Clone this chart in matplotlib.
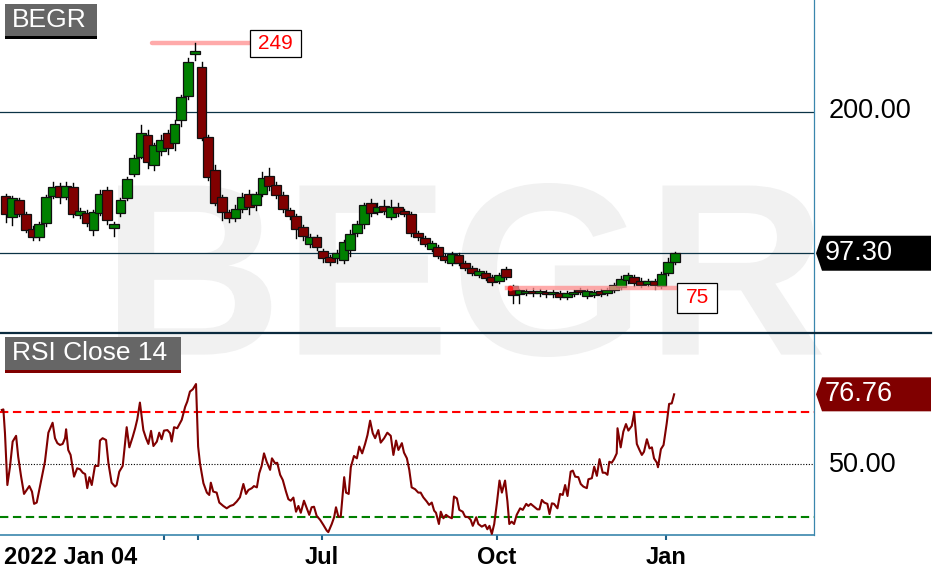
import numpy as np
import matplotlib
matplotlib.use("Agg")
import matplotlib.pyplot as plt
from matplotlib.patches import Rectangle, Polygon, PathPatch
from matplotlib.lines import Line2D
from matplotlib.textpath import TextPath
from matplotlib.font_manager import FontProperties
from matplotlib.transforms import Affine2D

plt.rcParams['font.family'] = ['Liberation Sans', 'DejaVu Sans']

ticker = "BEGR"
# candles, 2022-01-04 .. 2023-01-06 (one candle ~ every 2.5 trading days)
opens = [
    138.8, 123.6, 135.9, 125.7, 114.9, 109.1, 119.2, 138.8, 146.0, 138.1,
    145.3, 125.0, 126.5, 114.1, 126.5, 143.1, 115.6, 126.5, 137.3, 154.7,
    167.1, 183.0, 161.4, 171.4, 184.4, 177.2, 193.8, 211.2, 241.7, 232.2,
    181.5, 157.6, 138.1, 127.2, 122.8, 129.4, 140.2, 132.3, 140.2, 153.3,
    146.7, 139.5, 128.6, 124.3, 116.3, 104.0, 109.1, 98.9, 94.6, 93.9,
    92.4, 99.6, 112.0, 118.5, 133.7, 127.2, 131.5, 123.6, 130.8, 127.9,
    125.7, 112.0, 108.3, 100.4, 101.8, 95.3, 90.2, 96.0, 90.2, 86.6,
    81.5, 83.0, 80.1, 77.2, 85.9, 73.6, 67.8, 68.5, 69.9, 68.5,
    69.2, 67.8, 68.5, 65.6, 67.8, 70.7, 66.3, 67.0, 69.9, 68.5,
    70.7, 72.8, 77.9, 80.1, 77.2, 75.0, 77.2, 73.6, 83.0, 91.0]
closes = [
    125.7, 137.3, 125.7, 114.1, 109.1, 118.5, 138.1, 145.3, 138.1, 146.0,
    125.7, 127.9, 119.2, 127.2, 140.2, 121.4, 118.5, 135.9, 151.1, 166.3,
    184.4, 163.4, 175.7, 179.4, 173.6, 190.9, 210.5, 235.9, 243.8, 180.8,
    152.5, 133.7, 127.2, 122.8, 129.4, 138.1, 130.8, 140.2, 151.8, 146.0,
    139.5, 129.4, 124.3, 114.9, 109.8, 109.1, 101.8, 93.9, 91.0, 97.5,
    105.4, 111.2, 118.5, 132.3, 126.5, 130.8, 127.9, 130.8, 126.5, 125.7,
    112.0, 109.1, 104.0, 104.7, 95.3, 92.4, 96.8, 90.2, 86.6, 83.0,
    84.4, 79.4, 76.5, 81.5, 80.1, 67.0, 70.7, 69.9, 68.5, 69.9,
    67.8, 69.2, 65.6, 68.5, 69.2, 69.2, 69.9, 69.2, 67.8, 70.7,
    74.3, 78.6, 81.5, 75.7, 74.3, 77.2, 74.3, 82.3, 91.0, 97.3]
highs = [
    140.2, 138.8, 137.3, 127.2, 117.0, 119.9, 139.5, 148.9, 148.2, 148.9,
    148.2, 130.1, 128.6, 128.6, 143.1, 145.3, 119.9, 137.3, 152.5, 168.5,
    190.2, 186.6, 177.2, 183.0, 186.6, 193.8, 212.0, 238.8, 249.6, 235.9,
    183.0, 161.4, 139.5, 128.6, 132.3, 141.0, 143.1, 141.7, 156.2, 159.1,
    148.9, 141.7, 130.1, 125.7, 117.8, 111.2, 110.5, 100.4, 96.0, 99.6,
    106.9, 114.1, 120.7, 133.7, 136.6, 133.7, 135.9, 135.9, 133.7, 129.4,
    127.2, 113.4, 109.8, 106.2, 103.3, 96.8, 98.2, 97.5, 91.7, 88.1,
    85.9, 84.4, 81.5, 83.0, 87.3, 74.3, 71.4, 71.4, 72.1, 71.4,
    70.7, 70.7, 69.9, 69.9, 70.7, 72.1, 71.4, 70.7, 71.4, 72.1,
    75.7, 80.8, 83.0, 81.5, 79.4, 78.6, 78.6, 83.7, 93.9, 98.2]
lows = [
    119.9, 117.8, 124.3, 112.7, 106.9, 106.9, 117.0, 137.3, 133.7, 136.6,
    123.6, 122.8, 117.0, 110.5, 125.0, 118.5, 109.8, 124.3, 135.9, 153.3,
    166.3, 159.1, 157.6, 168.5, 169.2, 172.1, 189.5, 209.1, 237.3, 179.4,
    150.4, 132.3, 121.4, 119.9, 120.7, 127.2, 125.7, 128.6, 138.8, 143.1,
    137.3, 127.2, 122.1, 108.3, 106.9, 101.8, 99.6, 91.0, 88.8, 90.2,
    90.2, 95.3, 109.8, 115.6, 124.3, 125.7, 125.7, 122.1, 124.3, 124.3,
    109.8, 106.9, 102.5, 98.9, 93.9, 91.0, 88.8, 88.8, 85.2, 81.5,
    80.1, 77.9, 74.3, 75.7, 78.6, 61.2, 61.2, 67.0, 66.3, 66.3,
    65.6, 65.6, 64.1, 64.1, 66.3, 67.8, 64.9, 65.6, 66.3, 67.0,
    69.2, 71.4, 75.7, 73.6, 72.8, 73.6, 71.4, 72.1, 81.5, 89.5]

# RSI(14) of close, x = trading day since 2022-01-04
rsi_day = [
    -1.4, -0.8, -0.2, 0.7, 1.7, 2.7, 4.0, 4.8, 5.9, 7.0, 8.0, 9.0, 10.0, 10.8, 11.8,
    13.0, 14.1, 14.9, 16.2, 17.8, 18.7, 19.6, 20.6, 21.6, 22.5, 22.9, 23.7, 24.6, 25.9,
    27.1, 28.2, 29.2, 30.1, 30.9, 31.7, 32.6, 33.8, 35.1, 35.7, 36.7, 38.0, 38.9, 40.1,
    41.4, 42.0, 43.0, 44.3, 45.8, 46.8, 48.1, 49.0, 49.8, 50.8, 52.1, 53.1, 54.0, 55.0,
    55.9, 57.2, 58.1, 59.0, 59.9, 61.2, 62.2, 62.8, 63.7, 64.9, 66.6, 67.9, 68.7, 69.7,
    70.8, 72.0, 72.8, 73.5, 74.8, 76.1, 77.0, 77.6, 78.5, 79.8, 80.8, 82.3, 83.6, 84.9,
    86.1, 87.4, 88.6,
    89.9, 90.9, 91.8, 93.1, 93.9, 95.0, 95.9, 96.8, 97.7, 98.7, 100.0, 100.7, 101.9,
    102.7, 103.8, 104.8, 106.0, 106.9, 107.8, 108.8, 109.8, 110.7, 111.6, 112.8, 114.1,
    114.8, 115.7, 116.6, 117.6, 118.9, 120.1, 121.4, 122.0, 123.3, 124.2, 124.9, 125.8,
    126.7, 128.0, 128.7, 129.7, 130.5, 131.7, 132.8, 133.7, 134.8, 135.9, 136.8, 137.8,
    138.8, 139.7, 140.9, 141.8, 143.1, 144.3, 145.6, 146.6, 147.6, 148.5, 149.8, 150.6,
    151.7, 152.6, 153.5, 154.8, 156.0, 156.9, 157.9, 159.2, 160.1, 161.1, 162.0, 162.7,
    163.8, 164.5, 165.5, 166.5, 167.4, 168.7, 169.5, 170.6, 171.5,
    172.8, 173.7, 174.9, 175.8, 176.6, 177.9, 178.7, 180.0, 181.3, 182.1, 182.9, 183.8,
    184.7, 185.7, 186.7, 187.6, 188.8, 189.7, 190.4, 191.3, 192.2, 193.2, 194.5, 195.5,
    196.8, 197.6, 198.5, 199.8, 201.0, 201.8, 202.7, 203.6, 204.8, 205.6, 206.5, 207.3,
    208.6, 209.6, 210.6, 211.5, 212.4, 213.6, 214.4, 215.3, 216.5, 217.4, 218.4, 219.7,
    220.3, 221.6, 222.5, 223.5, 224.5, 225.7, 226.6, 227.5, 228.2, 229.1, 230.0, 231.0,
    231.3, 232.5, 233.5, 234.5, 235.4, 236.7, 237.6, 238.6, 239.6, 240.5, 241.3, 242.4,
    243.4, 244.3, 245.1, 246.2, 246.6, 247.7, 248.7, 249.9, 250.8, 251.8, 252.7]
rsi = [
    70.8, 71.0, 61.9, 42.1, 49.1, 58.7, 60.9, 52.9, 45.3, 38.7, 40.2, 41.7, 39.6, 34.9, 35.4,
    41.5, 47.2, 51.0, 62.1, 65.9, 60.0, 58.1, 57.4, 57.8, 60.0, 63.4, 55.5, 53.6, 45.3,
    48.5, 48.1, 46.8, 46.3, 40.9, 45.1, 42.1, 49.4, 49.4, 59.1, 60.0, 59.3, 50.4, 43.0,
    41.5, 42.1, 47.2, 49.4, 64.2, 56.5, 60.6, 63.8, 67.2, 73.6, 63.1, 60.0, 57.8, 62.8,
    57.0, 58.7, 62.1, 59.6, 62.9, 63.1, 61.9, 58.7, 64.2, 63.8, 67.0, 72.0, 74.0, 77.8,
    78.7, 80.7, 56.8, 50.4, 42.8, 39.2, 38.3, 43.0, 39.6, 39.2, 35.4, 34.1, 33.2, 34.1,
    34.5, 35.8, 37.4,
    42.5, 38.7, 40.2, 40.9, 41.7, 41.2, 46.6, 49.4, 54.2, 51.0, 47.9, 52.3, 50.4,
    50.6, 46.0, 44.0, 39.6, 36.7, 36.1, 37.3, 31.9, 34.1, 31.5, 36.1, 32.6,
    30.7, 33.6, 33.8, 30.3, 28.8, 26.9, 24.7, 24.1, 27.2, 29.8, 33.6, 30.0,
    30.0, 45.1, 39.2, 38.7, 48.9, 53.2, 52.3, 56.8, 54.2, 57.8, 61.2, 66.7,
    61.9, 60.0, 63.1, 58.3, 60.0, 62.1, 60.9, 53.6, 59.1, 55.5, 58.1, 54.5,
    52.3, 47.9, 41.2, 40.5, 39.2, 39.2, 37.4, 35.8, 34.5, 35.4, 32.3, 31.5,
    27.2, 31.9, 29.4, 30.7, 30.0, 29.4, 37.7, 37.0, 32.6,
    31.9, 30.0, 29.8, 28.8, 26.5, 29.8, 27.2, 26.2, 26.9, 25.2, 26.5, 23.4,
    27.2, 35.1, 43.8, 39.2, 43.8, 35.8, 27.2, 28.1, 27.2, 30.7, 33.2, 32.6,
    34.9, 34.1, 34.9, 33.8, 32.8, 32.8, 36.4, 35.4, 34.9, 31.0, 35.1, 34.9,
    33.2, 38.7, 38.3, 42.1, 37.9, 47.2, 47.6, 45.3, 45.1, 42.5, 41.5, 40.9,
    44.3, 44.7, 49.1, 45.6, 52.0, 46.8, 46.8, 46.0, 51.0, 50.6, 52.0, 54.2,
    63.8, 56.5, 62.5, 65.4, 62.9, 64.7, 69.7, 57.8, 55.5, 53.6, 54.8, 59.6,
    56.1, 56.5, 52.3, 50.6, 48.9, 55.8, 57.4, 65.7, 73.1, 73.3, 76.76]

last_price = closes[-1]
last_rsi = rsi[-1]
low_line = 72.3          # where the "75" marker line is drawn
hi_label, lo_label = "249", "75"
tick_days = [59.9, 72.8, 119.6, 185.7, 249.6]
tick_labels = ['', '', 'Jul', 'Oct', 'Jan']

W, H = 951, 578
def fx(x):
    return x / W
def fy(y):
    return 1 - y / H

fig = plt.figure(figsize=(W / 100, H / 100), dpi=100)
fig.patch.set_facecolor('white')

# watermark
fp = FontProperties(family='Liberation Sans', weight='bold')
tp = TextPath((0, 0), ticker, size=100, prop=fp)
ext = tp.get_extents()
tr = (Affine2D().translate(-ext.x0, -ext.y0)
      .scale((822 - 118) / ext.width / W, (357 - 183) / ext.height / H)
      .translate(fx(118), fy(357)))
fig.add_artist(PathPatch(tp, transform=tr + fig.transFigure, facecolor='#f1f1f1',
                         edgecolor='none', zorder=-1))

ax1 = fig.add_axes([0, fy(333), fx(814), fy(0) - fy(333)])
ax2 = fig.add_axes([0, fy(535), fx(814), fy(333) - fy(535)])
for ax in (ax1, ax2):
    ax.set_facecolor('none')
    ax.set_xlim(-2.08, 305.56)
    for s in ax.spines.values():
        s.set_visible(False)
    ax.spines['right'].set_visible(True)
    ax.spines['right'].set_color('#3a86ad')
    ax.spines['right'].set_linewidth(0.9)
    ax.set_yticks([])
ax1.set_xticks([])
ax1.set_ylim(39.5, 280.8)
ax2.set_ylim(23.0, 100.2)

# candles
xc = np.linspace(0, 253, len(closes))
w = 3.7
for i, (x, o, c, h, l) in enumerate(zip(xc, opens, closes, highs, lows)):
    z = 3 + i * 0.001
    ax1.plot([x, x], [l, h], color='black', lw=1, zorder=z)
    col = '#008000' if c >= o else '#800000'
    ax1.add_patch(Rectangle((x - w / 2, min(o, c)), w, max(abs(c - o), 0.6),
                            facecolor=col, edgecolor='#101010', lw=0.9, zorder=z))

ax1.axhline(200, color='#0b3346', lw=0.9, zorder=1)
ax1.axhline(last_price, color='#0b3346', lw=0.9, zorder=1)

# high / low markers
i_hi = int(np.argmax(highs))
ax1.plot([xc[i_hi] - 16.3, xc[i_hi] + 20.8], [highs[i_hi]] * 2, color='#ffaaaa', lw=3.2,
         solid_capstyle='round', zorder=2)
ax1.plot([189.6, 253.8], [low_line] * 2, color='#ff8f8f', lw=3.2, alpha=0.75, zorder=4)
ax1.plot([190.6], [low_line], 'o', color='#ff2020', ms=3, zorder=4.1)

def box_label(ax, xd, yv, text, bw, bh, dy=0):
    px, py = ax.transData.transform((xd, yv))
    x0 = px / fig.dpi * 100
    y0 = H - py / fig.dpi * 100 + dy
    fig.add_artist(Rectangle((fx(x0), fy(y0 + bh / 2)), bw / W, bh / H, transform=fig.transFigure,
                             facecolor='white', edgecolor='black', lw=0.9, zorder=5))
    fig.text(fx(x0 + bw / 2), fy(y0), text, color='#ff0000', fontsize=15, ha='center',
             va='center', zorder=6)

box_label(ax1, xc[i_hi] + 20.8, highs[i_hi], hi_label, 51, 27)
box_label(ax1, 253.8, low_line, lo_label, 40, 30, dy=10)

# RSI panel
ax2.axhline(70, color='#ff0000', lw=1.5, ls=(0, (4, 2.2)), zorder=1)
ax2.axhline(30, color='#008000', lw=1.5, ls=(0, (4, 2.2)), zorder=1)
ax2.axhline(50, color='black', lw=0.8, ls=(0, (1, 1.5)), zorder=1)
ax2.plot(rsi_day, rsi, color='#800000', lw=1.5, zorder=3)
ax2.spines['bottom'].set_visible(True)
ax2.spines['bottom'].set_color('#3a86ad')
ax2.spines['bottom'].set_linewidth(1.2)
ax2.set_xticks(tick_days)
ax2.set_xticklabels(tick_labels, fontsize=17, fontweight='bold')
ax2.tick_params(axis='x', direction='out', length=3.6, width=1.5, color='#1f5f87', pad=4)
ax2.xaxis.get_major_ticks()[1].tick1line.set_color('#ff5a5a')
fig.text(fx(4), fy(557), '2022 Jan 04', fontsize=17, fontweight='bold', ha='left', va='center')

# separator between panels
fig.add_artist(Line2D([0, fx(931)], [fy(333), fy(333)], color='#0b2b3f', lw=1.6,
                      transform=fig.transFigure, zorder=5))

# right axis labels
fig.text(fx(829), fy(111), '200.00', fontsize=19.5, ha='left', va='center')
fig.text(fx(829), fy(465), '50.00', fontsize=19.5, ha='left', va='center')

def tag(ax, value, text, color, half):
    _, py = ax.transData.transform((0, value))
    yc = H - py / fig.dpi * 100
    pts = [(fx(816), fy(yc)), (fx(822), fy(yc - half)), (fx(931), fy(yc - half)),
           (fx(931), fy(yc + half)), (fx(822), fy(yc + half))]
    fig.add_artist(Polygon(pts, closed=True, transform=fig.transFigure, facecolor=color,
                           edgecolor='none', zorder=5))
    fig.text(fx(825), fy(yc), text, color='white', fontsize=19.5, ha='left', va='center',
             zorder=6)

tag(ax1, last_price, f'{last_price:.2f}', 'black', 17.5)
tag(ax2, last_rsi, f'{last_rsi:.2f}', '#800000', 17)

# panel titles
fig.add_artist(Rectangle((fx(5), fy(36)), 92 / W, 32 / H, transform=fig.transFigure,
                         facecolor='#666666', edgecolor='none', zorder=5))
fig.add_artist(Rectangle((fx(5), fy(39)), 92 / W, 3 / H, transform=fig.transFigure,
                         facecolor='black', edgecolor='none', zorder=5))
fig.text(fx(12), fy(20), ticker, color='white', fontsize=19, ha='left', va='center', zorder=6)

fig.add_artist(Rectangle((fx(5), fy(370)), 176 / W, 33 / H, transform=fig.transFigure,
                         facecolor='#666666', edgecolor='none', zorder=5))
fig.add_artist(Rectangle((fx(5), fy(373)), 176 / W, 3 / H, transform=fig.transFigure,
                         facecolor='#800000', edgecolor='none', zorder=5))
fig.text(fx(12), fy(353), 'RSI Close 14', color='white', fontsize=19, ha='left', va='center',
         zorder=6)

fig.savefig('out.png', dpi=100)
